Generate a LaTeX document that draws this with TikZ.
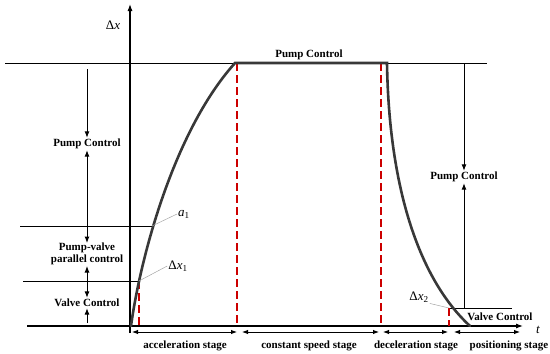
\documentclass[tikz,border=0pt]{standalone}
\usepackage{fontspec}
\setmainfont{Liberation Serif}
\usetikzlibrary{arrows.meta}

\begin{document}
\begin{tikzpicture}[x=1pt,y=-1pt,
 axis/.style={line width=1.1pt,-{Latex[length=7pt,width=5pt]}},
 level/.style={line width=0.9pt},
 curve/.style={line width=2.6pt,draw=black!78,line cap=round},
 stage/.style={draw=red!80!black,line width=1.8pt,dash pattern=on 8pt off 4pt},
 dim/.style={line width=0.9pt,{Latex[length=6pt,width=4.5pt]}-{Latex[length=6pt,width=4.5pt]}},
 band/.style={line width=1pt,-{Latex[length=6.5pt,width=5pt]}},
 lbl/.style={font=\bfseries\fontsize{11}{12.5}\selectfont,inner sep=1pt},
 sym/.style={font=\fontsize{13}{14}\selectfont,inner sep=1pt},
 lead/.style={draw=gray!70,line width=0.5pt}]
\useasboundingbox (0,0) rectangle (550,354);
% axes
\coordinate (o) at (130,326);
\coordinate (ytop) at (130,4);
\coordinate (ybot) at (130,333);
\coordinate (tbeg) at (27,326);
\coordinate (tend) at (523,326);
\draw[axis] (ybot)--(ytop);
\draw[axis] (tbeg)--(tend);
\node[sym] (dx) at (113,25) {Δ\textit{x}};
\node[sym] (tl) at (538,330) {\textit{t}};
% levels
\coordinate (top0) at (5,63);
\coordinate (top1) at (487,63);
\coordinate (p1) at (20,226);
\coordinate (a1pt) at (152,226);
\coordinate (p2) at (23,281);
\coordinate (x1pt) at (139,281);
\coordinate (x2pt) at (449,308);
\coordinate (q2) at (512,308);
\draw[level] (top0)--(top1);
\draw[level] (p1)--(a1pt);
\draw[level] (p2)--(x1pt);
\draw[level] (x2pt)--(q2);
% stage boundaries
\coordinate (s1) at (139,326);
\coordinate (s2t) at (237,63);
\coordinate (s2) at (237,326);
\coordinate (s3t) at (381,63);
\coordinate (s3) at (381,326);
\coordinate (s4) at (449,326);
\foreach \a/\b in {x1pt/s1,s2t/s2,s3t/s3,x2pt/s4}
 \draw[stage] (\a)--(\b);
% displacement curve
\coordinate (c0) at (131,326);
\coordinate (c1) at (235,63);
\coordinate (c2) at (387,63);
\coordinate (c3) at (470,326);
\draw[curve] (c0) .. controls (140,260) and (173,132) .. (c1)
 -- (c2) .. controls (389,190) and (420,280) .. (c3);
% left bands
\node[lbl] (pc1) at (87,144) {Pump Control};
\node[lbl,align=center] (pv) at (87,254) {Pump-valve\\parallel control};
\node[lbl] (vc1) at (87,303) {Valve Control};
\coordinate (b0) at (87,69);
\coordinate (b1) at (87,226);
\coordinate (b2) at (87,281);
\coordinate (b3) at (87,323);
\draw[band] (b0)--(pc1.north);
\draw[band] (b1)--(pc1.south);
\draw[band] (b1)--(87,243);
\draw[band] (b2)--(87,266);
\draw[band] (b2)--(vc1.north);
\draw[band] (b3)--(vc1.south);
% right band
\node[lbl] (pc2) at (464,177) {Pump Control};
\coordinate (r0) at (464,63);
\coordinate (r1) at (464,308);
\draw[band] (r0)--(pc2.north);
\draw[band] (r1)--(pc2.south);
\node[lbl] (vc2) at (500,317) {Valve Control};
\node[lbl] (pc0) at (309,55) {Pump Control};
% labels on curve
\node[sym] (a1) at (184,214) {\textit{a}\textsubscript{1}};
\node[sym] (dx1) at (178,266) {Δ\textit{x}\textsubscript{1}};
\node[sym] (dx2) at (419,297) {Δ\textit{x}\textsubscript{2}};
\draw[lead] (a1.west)--(a1pt);
\draw[lead] (dx1.west)--(x1pt);
\draw[lead] (dx2.south east)--(x2pt);
% stages
\coordinate (d0) at (132,332);
\coordinate (d1) at (237,332);
\coordinate (d2) at (242,332);
\coordinate (d3) at (379,332);
\coordinate (d4) at (383,332);
\coordinate (d5) at (448,332);
\coordinate (d6) at (454,332);
\coordinate (d7) at (520,332);
\foreach \a/\b in {d0/d1,d2/d3,d4/d5,d6/d7}
 \draw[dim] (\a)--(\b);
\node[lbl] (acc) at (185,346) {acceleration stage};
\node[lbl] (con) at (309,346) {constant speed stage};
\node[lbl] (dec) at (416,346) {deceleration stage};
\node[lbl] (pos) at (509,346) {positioning stage};
\end{tikzpicture}
\end{document}
